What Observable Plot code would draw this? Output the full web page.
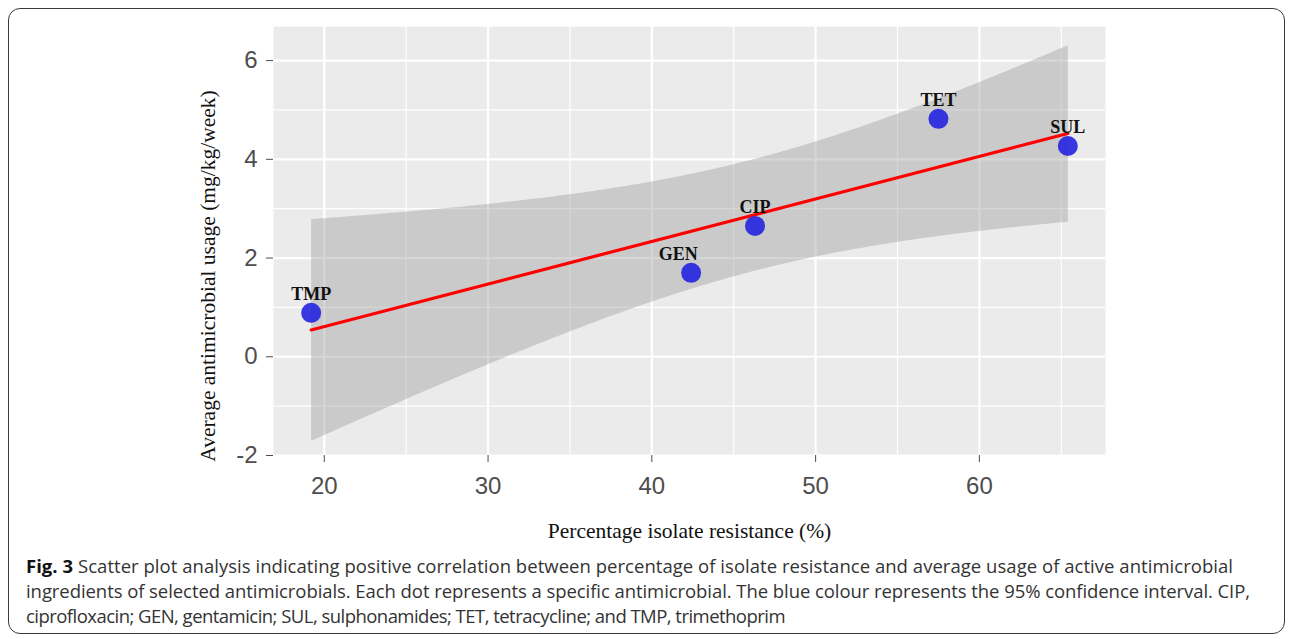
<!DOCTYPE html>
<html><head><meta charset="utf-8">
<script src="https://cdn.jsdelivr.net/npm/d3@7"></script>
<script src="https://cdn.jsdelivr.net/npm/@observablehq/plot@0.6"></script>
<style>
html,body{margin:0;padding:0;background:#fff}
body{width:1292px;height:639px;overflow:hidden;position:relative}
#frame{position:absolute;left:8px;top:8px;width:1277px;height:626px;border:1px solid #3a3a3a;border-radius:12px;box-sizing:border-box}
#chart{position:absolute;left:0;top:0}
#caption{position:absolute;left:26px;top:553px;font-family:"Open Sans",sans-serif;font-size:18.5px;color:#333;white-space:nowrap}
#caption div{height:25px;line-height:25px}
#caption b{color:#111}
</style></head>
<body>
<div id="frame"></div>
<div id="chart"></div>
<div id="caption">
<div data-w="1207"><b>Fig. 3</b> Scatter plot analysis indicating positive correlation between percentage of isolate resistance and average usage of active antimicrobial</div>
<div data-w="1224">ingredients of selected antimicrobials. Each dot represents a specific antimicrobial. The blue colour represents the 95% confidence interval. CIP,</div>
<div data-w="759">ciprofloxacin; GEN, gentamicin; SUL, sulphonamides; TET, tetracycline; and TMP, trimethoprim</div>
</div>
<script>
const names = ["TMP", "GEN", "CIP", "TET", "SUL"];
const resistance = [19.2, 42.4, 46.3, 57.5, 65.4];
const usage = [0.89, 1.70, 2.65, 4.82, 4.27];
const xTicks = [20, 30, 40, 50, 60];
const yTicks = [-2, 0, 2, 4, 6];
const xMinor = [25, 35, 45, 55, 65];
const yMinor = [-1, 1, 3, 5];
const xLabel = "Percentage isolate resistance (%)";
const yLabel = "Average antimicrobial usage (mg/kg/week)";

const data = names.map((n, i) => ({name: n, x: resistance[i], y: usage[i]}));
const serif = "'Liberation Serif','Times New Roman',serif";
const sans = "'Liberation Sans',Arial,sans-serif";

const chart = Plot.plot({
  width: 1292, height: 545,
  marginLeft: 273, marginRight: 187, marginTop: 26, marginBottom: 90,
  x: {domain: [16.9, 67.7]},
  y: {domain: [-2.0, 6.69]},
  style: {background: "transparent", overflow: "visible"},
  marks: [
    Plot.frame({fill: "#ebebeb", stroke: null}),
    Plot.ruleX(xMinor, {stroke: "white", strokeWidth: 1.2}),
    Plot.ruleY(yMinor, {stroke: "white", strokeWidth: 1.2}),
    Plot.ruleX(xTicks, {stroke: "white", strokeWidth: 2.2}),
    Plot.ruleY(yTicks, {stroke: "white", strokeWidth: 2.2}),
    Plot.linearRegressionY(data, {x: "x", y: "y", stroke: "red", strokeWidth: 3.2, fill: "#999999", fillOpacity: 0.4, ci: 0.95}),
    Plot.dot(data, {x: "x", y: "y", r: 10, fill: "#1f1fe0", fillOpacity: 0.88, stroke: null}),
    Plot.text(data.filter(d => d.name !== "GEN"), {x: "x", y: "y", text: "name", dy: -19, fontFamily: serif, fontWeight: "bold", fontSize: 18, fill: "#111"}),
    Plot.text(data.filter(d => d.name === "GEN"), {x: "x", y: "y", text: "name", dy: -19, dx: -13, fontFamily: serif, fontWeight: "bold", fontSize: 18, fill: "#111"}),
    Plot.axisX({ticks: xTicks, tickSize: 7, tickPadding: 14, fontSize: 24, fontFamily: sans, color: "#4d4d4d", tickFormat: d => String(d), label: null}),
    Plot.axisY({ticks: yTicks, tickSize: 7, tickPadding: 9, fontSize: 24, fontFamily: sans, color: "#4d4d4d", tickFormat: d => String(d), label: null}),
    Plot.text([xLabel], {text: d => d, frameAnchor: "bottom", dy: 76, textAnchor: "middle", lineAnchor: "middle", fontFamily: serif, fontSize: 21.5, fill: "#111"}),
    Plot.text([yLabel], {text: d => d, frameAnchor: "left", rotate: -90, dx: -65, dy: 35, textAnchor: "middle", lineAnchor: "middle", fontFamily: serif, fontSize: 21.5, fill: "#111"})
  ]
});
document.getElementById("chart").appendChild(chart);

function fitCaption() {
  document.querySelectorAll("#caption div").forEach(el => {
    el.style.letterSpacing = "0px";
    const range = document.createRange();
    range.selectNodeContents(el);
    const w = range.getBoundingClientRect().width;
    const target = +el.dataset.w;
    const n = el.textContent.length;
    el.style.letterSpacing = ((target - w) / n) + "px";
  });
}
fitCaption();
if (document.fonts && document.fonts.ready) document.fonts.ready.then(fitCaption);
</script>
</body></html>
